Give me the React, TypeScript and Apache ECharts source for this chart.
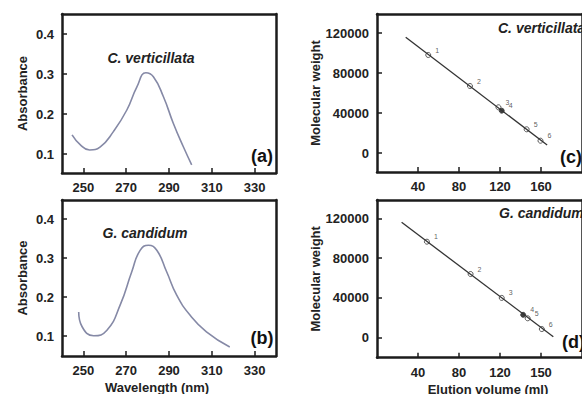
import React, { useEffect, useRef } from "react";
import * as echarts from "echarts";

// Panel (a): C. verticillata absorbance spectrum
const aWavelength = [244.7, 248.6, 252.9, 257.9, 264, 270.3, 275, 279.2, 282.7, 287.4, 292, 296.7, 300.6];
const aAbsorbance = [0.148, 0.123, 0.11, 0.118, 0.156, 0.21, 0.268, 0.303, 0.293, 0.243, 0.177, 0.118, 0.073];
// Panel (b): G. candidum absorbance spectrum
const bWavelength = [247.8, 249.4, 254.8, 261, 267.2, 272.6, 276.5, 280.4, 284.3, 288.9, 293.6, 299.8, 307.5, 318.4];
const bAbsorbance = [0.162, 0.124, 0.101, 0.115, 0.18, 0.265, 0.32, 0.333, 0.32, 0.265, 0.205, 0.154, 0.111, 0.072];
// Panel (c): calibration, C. verticillata
const cElution = [50, 90.7, 118.5, 121.7, 146, 159.5];
const cWeight = [98000, 67000, 45700, 42300, 23700, 12300];
const cFitElution = [28, 166];
const cFitWeight = [115700, 8000];
// Panel (d): calibration, G. candidum
const dElution = [48.7, 91.3, 121.7, 142.6, 147, 160.8];
const dWeight = [96500, 64000, 40000, 23000, 19500, 8700];
const dFitElution = [24, 172];
const dFitWeight = [116000, 1000];
const pointNames = ["1", "2", "3", "4", "5", "6"];
const pointFilled = [false, false, false, true, false, false];

// Tick labels
const absTicks = [0.1, 0.2, 0.3, 0.4];
const waveTicks = [250, 270, 290, 310, 330];
const mwTicks = [0, 40000, 80000, 120000];
const elutionTicks = [40, 80, 120, 160];
const cElutionLabels = ["40", "80", "120", "160"];
const dElutionLabels = ["40", "80", "120", "150"];

const FONT = "'Liberation Sans', Arial, sans-serif";
const TXT = "#222";
const FRAME = "#1c1c1c";
const CURVE = "#8589a6";

export default function App() {
  const ref = useRef<HTMLDivElement>(null);
  useEffect(() => {
    if (!ref.current) return;
    const chart = echarts.init(ref.current, null, { renderer: "svg" });

    const tickLabel = { color: TXT, fontWeight: "bold", fontSize: 13, fontFamily: FONT };
    const frameLine = { show: true, onZero: false, lineStyle: { color: FRAME, width: 2.5 } };
    const mkX = (gridIndex: number, min: number, max: number, ticks: number[], labels?: string[]) => ({
      type: "value",
      gridIndex,
      min,
      max,
      splitLine: { show: false },
      axisLine: frameLine,
      axisTick: { show: true, inside: true, length: 5, customValues: ticks, lineStyle: { color: FRAME, width: 1.5 } },
      axisLabel: {
        ...tickLabel,
        margin: 8,
        customValues: ticks,
        formatter: (v: number) => {
          if (labels) {
            const i = ticks.indexOf(v);
            return i >= 0 ? labels[i] : "";
          }
          return String(v);
        },
      },
    });
    const mkY = (gridIndex: number, min: number, max: number, ticks: number[], name: string, nameGap: number) => ({
      type: "value",
      gridIndex,
      min,
      max,
      name,
      nameLocation: "middle",
      nameRotate: 90,
      nameGap,
      nameTextStyle: { color: TXT, fontWeight: "bold", fontSize: 13, fontFamily: FONT },
      splitLine: { show: false },
      axisLine: frameLine,
      axisTick: { show: true, inside: true, length: 5, customValues: ticks, lineStyle: { color: FRAME, width: 1.5 } },
      axisLabel: { ...tickLabel, margin: 8, customValues: ticks, formatter: (v: number) => String(v) },
    });
    // frame-only axes (top and right sides)
    const frameX = (gridIndex: number, min: number, max: number) => ({
      type: "value",
      gridIndex,
      position: "top",
      min,
      max,
      axisLine: frameLine,
      axisTick: { show: false },
      axisLabel: { show: false },
      splitLine: { show: false },
    });
    const frameY = (gridIndex: number, min: number, max: number) => ({
      type: "value",
      gridIndex,
      position: "right",
      min,
      max,
      axisLine: frameLine,
      axisTick: { show: false },
      axisLabel: { show: false },
      splitLine: { show: false },
    });

    const scatterData = (xs: number[], ys: number[]) =>
      xs.map((x, i) => ({
        value: [x, ys[i]],
        name: pointNames[i],
        itemStyle: { color: pointFilled[i] ? "#111" : "#fff", borderColor: "#333", borderWidth: 1 },
      }));

    const pointLabel = {
      show: true,
      formatter: (p: any) => p.name,
      position: "right",
      offset: [-1, -5],
      fontSize: 7,
      color: "#333",
      textBorderWidth: 0,
      fontFamily: FONT,
    };

    const gridBase = { show: false, containLabel: false };

    const option: any = {
      animation: false,
      backgroundColor: "#fff",
      grid: [
        { ...gridBase, left: 62, top: 14, width: 214, height: 159 },
        { ...gridBase, left: 62, top: 200, width: 214, height: 156 },
        { ...gridBase, left: 377, top: 14, width: 210, height: 158 },
        { ...gridBase, left: 377, top: 200, width: 211, height: 157.7 },
      ],
      xAxis: [
        mkX(0, 240, 340, waveTicks),
        mkX(1, 240, 340, waveTicks),
        mkX(2, 0, 200, elutionTicks, cElutionLabels),
        mkX(3, 0, 200, elutionTicks, dElutionLabels),
        frameX(0, 240, 340),
        frameX(1, 240, 340),
        frameX(2, 0, 200),
        frameX(3, 0, 200),
      ],
      yAxis: [
        mkY(0, 0.0525, 0.45, absTicks, "Absorbance", 33),
        mkY(1, 0.049, 0.449, absTicks, "Absorbance", 33),
        mkY(2, -19000, 139000, mwTicks, "Molecular weight", 54),
        mkY(3, -20100, 138400, mwTicks, "Molecular weight", 54),
        frameY(0, 0.0525, 0.45),
        frameY(1, 0.049, 0.449),
        frameY(2, -19000, 139000),
        frameY(3, -20100, 138400),
      ],
      series: [
        {
          type: "line",
          xAxisIndex: 0,
          yAxisIndex: 0,
          smooth: 0.5,
          showSymbol: false,
          lineStyle: { color: CURVE, width: 1.6 },
          data: aWavelength.map((x, i) => [x, aAbsorbance[i]]),
        },
        {
          type: "line",
          xAxisIndex: 1,
          yAxisIndex: 1,
          smooth: 0.5,
          showSymbol: false,
          lineStyle: { color: CURVE, width: 1.6 },
          data: bWavelength.map((x, i) => [x, bAbsorbance[i]]),
        },
        {
          type: "line",
          xAxisIndex: 2,
          yAxisIndex: 2,
          showSymbol: false,
          lineStyle: { color: "#333", width: 1.3 },
          data: cFitElution.map((x, i) => [x, cFitWeight[i]]),
        },
        {
          type: "scatter",
          xAxisIndex: 2,
          yAxisIndex: 2,
          symbol: "circle",
          symbolSize: 5,
          label: pointLabel,
          data: scatterData(cElution, cWeight),
        },
        {
          type: "line",
          xAxisIndex: 3,
          yAxisIndex: 3,
          showSymbol: false,
          lineStyle: { color: "#333", width: 1.3 },
          data: dFitElution.map((x, i) => [x, dFitWeight[i]]),
        },
        {
          type: "scatter",
          xAxisIndex: 3,
          yAxisIndex: 3,
          symbol: "circle",
          symbolSize: 5,
          label: pointLabel,
          data: scatterData(dElution, dWeight),
        },
      ],
      graphic: [
        { type: "text", x: 151, y: 58, style: { text: "C. verticillata", fill: TXT, font: `italic bold 14px ${FONT}`, align: "center", verticalAlign: "middle" } },
        { type: "text", x: 145, y: 233, style: { text: "G. candidum", fill: TXT, font: `italic bold 14px ${FONT}`, align: "center", verticalAlign: "middle" } },
        { type: "text", x: 498, y: 28, style: { text: "C. verticillata", fill: TXT, font: `italic bold 14px ${FONT}`, align: "left", verticalAlign: "middle" } },
        { type: "text", x: 499, y: 213, style: { text: "G. candidum", fill: TXT, font: `italic bold 14px ${FONT}`, align: "left", verticalAlign: "middle" } },
        { type: "text", x: 262, y: 156, style: { text: "(a)", fill: "#111", font: `bold 18px ${FONT}`, align: "center", verticalAlign: "middle" } },
        { type: "text", x: 262, y: 338, style: { text: "(b)", fill: "#111", font: `bold 18px ${FONT}`, align: "center", verticalAlign: "middle" } },
        { type: "text", x: 560, y: 157, style: { text: "(c)", fill: "#111", font: `bold 18px ${FONT}`, align: "left", verticalAlign: "middle" } },
        { type: "text", x: 562, y: 342, style: { text: "(d)", fill: "#111", font: `bold 18px ${FONT}`, align: "left", verticalAlign: "middle" } },
        { type: "text", x: 157, y: 387, style: { text: "Wavelength (nm)", fill: TXT, font: `bold 13px ${FONT}`, align: "center", verticalAlign: "middle" } },
        { type: "text", x: 488, y: 389, style: { text: "Elution volume (ml)", fill: TXT, font: `bold 13px ${FONT}`, align: "center", verticalAlign: "middle" } },
      ],
    };

    chart.setOption(option);
    return () => chart.dispose();
  }, []);

  return (
    <div
      ref={ref}
      style={{ position: "absolute", left: 0, top: 0, width: 582, height: 394, background: "#fff" }}
    />
  );
}
